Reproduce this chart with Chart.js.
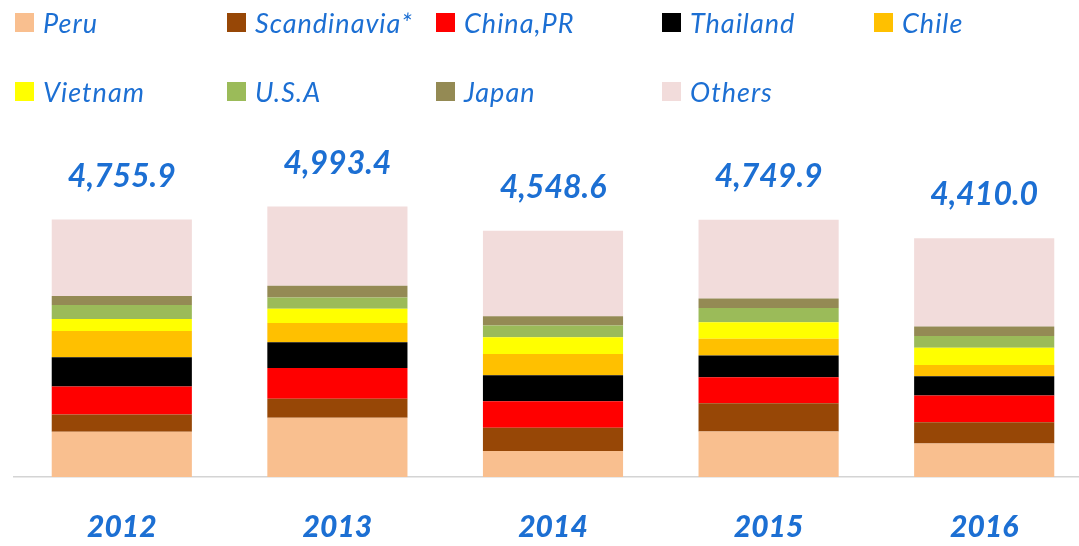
<!DOCTYPE html>
<html>
<head>
<meta charset="utf-8">
<script src="https://cdn.jsdelivr.net/npm/chart.js@4/dist/chart.umd.min.js"></script>
<style>
  html, body { margin: 0; padding: 0; background: #ffffff; overflow: hidden; width: 1079px; height: 546px; }
  #wrap { position: relative; width: 1079px; height: 546px; overflow: hidden; }
  #c { position: absolute; left: 0; top: 0; }
  #legend { position: absolute; left: 0; top: 0; width: 1079px; height: 120px; }
  .li { position: absolute; display: flex; align-items: center; height: 19px; white-space: nowrap; }
  .li .box { width: 19px; height: 19px; margin-right: 9px; flex: none; }
  .li .txt { font-family: Lato, "Liberation Sans", sans-serif; font-style: italic; font-size: 27px; letter-spacing: 1px; color: #1c6fd3; line-height: 19px; }
</style>
</head>
<body>
<div id="wrap">
  <canvas id="c" width="1092" height="546"></canvas>
  <div id="legend"></div>
</div>
<script>
const categories = ["2012", "2013", "2014", "2015", "2016"];
const seriesNames = ["Peru", "Scandinavia*", "China,PR", "Thailand", "Chile", "Vietnam", "U.S.A", "Japan", "Others"];
const peru        = [836, 1093, 479, 841, 620];
const scandinavia = [316, 350, 430, 519, 391];
const china       = [520, 571, 492, 482, 496];
const thailand    = [539, 473, 479, 402, 354];
const chile       = [483, 356, 393, 309, 205];
const vietnam     = [223, 265, 308, 303, 323];
const usa         = [260, 208, 216, 266, 217];
const japan       = [167, 216, 172, 173, 174];
const others      = [1412, 1461, 1580, 1455, 1630];
const totals      = [4755.9, 4993.4, 4548.6, 4749.9, 4410.0];
const totalLabels = ["4,755.9", "4,993.4", "4,548.6", "4,749.9", "4,410.0"];

const seriesValues = [peru, scandinavia, china, thailand, chile, vietnam, usa, japan, others];
const colors = ["#F9BF8F", "#974706", "#FF0000", "#000000", "#FFC000", "#FFFF00", "#9BBB59", "#948A54", "#F2DCDB"];
const textBlue = "#1c6fd3";

const datasets = seriesNames.map((name, i) => ({
  label: name,
  data: seriesValues[i],
  backgroundColor: colors[i],
  borderWidth: 0,
  barPercentage: 0.65,
  categoryPercentage: 1.0,
  stack: "s"
}));

const totalsPlugin = {
  id: "totals",
  afterDatasetsDraw(chart) {
    const ctx = chart.ctx;
    const x = chart.scales.x, y = chart.scales.y;
    ctx.save();
    ctx.font = "italic bold 32px Lato, 'Liberation Sans', sans-serif";
    ctx.fillStyle = textBlue;
    ctx.textAlign = "center";
    ctx.textBaseline = "middle";
    totals.forEach((t, i) => {
      ctx.fillText(totalLabels[i], x.getPixelForValue(i), y.getPixelForValue(t) - 43);
    });
    ctx.restore();
  }
};

const chart = new Chart(document.getElementById("c"), {
  type: "bar",
  data: { labels: categories, datasets },
  options: {
    responsive: false,
    animation: false,
    layout: { padding: { top: 125, left: 14, right: 0, bottom: 0 } },
    plugins: { legend: { display: false }, tooltip: { enabled: false } },
    scales: {
      x: {
        stacked: true,
        offset: true,
        grid: { display: false, drawTicks: false },
        border: { display: true, color: "#d4d4d4", width: 1.5 },
        ticks: {
          color: textBlue,
          padding: 32,
          font: { family: "Lato, 'Liberation Sans', sans-serif", size: 30, style: "italic", weight: "900" }
        },
        afterFit(scale) { scale.height = 69; }
      },
      y: {
        stacked: true,
        display: false,
        min: 0,
        max: 6500
      }
    }
  },
  plugins: [totalsPlugin]
});

// HTML legend built from the chart's datasets
const colX = [15, 227, 436, 662, 874];
const rowY = [13, 82];
const legend = document.getElementById("legend");
chart.data.datasets.forEach((ds, i) => {
  const row = i < 5 ? 0 : 1;
  const col = i < 5 ? i : i - 5;
  const item = document.createElement("div");
  item.className = "li";
  item.style.left = colX[col] + "px";
  item.style.top = rowY[row] + "px";
  const box = document.createElement("span");
  box.className = "box";
  box.style.background = ds.backgroundColor;
  const txt = document.createElement("span");
  txt.className = "txt";
  txt.textContent = ds.label;
  item.appendChild(box);
  item.appendChild(txt);
  legend.appendChild(item);
});
</script>
</body>
</html>
